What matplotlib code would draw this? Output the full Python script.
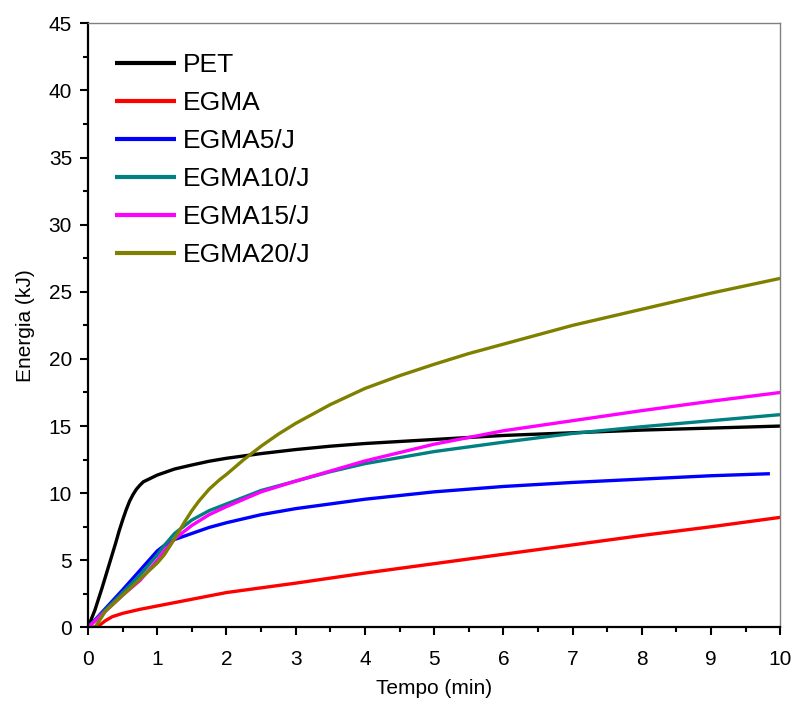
import matplotlib.pyplot as plt
from matplotlib.ticker import MultipleLocator

# time (min) / energy (kJ) per sample
pet_t = [0, 0.1, 0.2, 0.3, 0.4, 0.45, 0.5, 0.55, 0.6, 0.65, 0.7, 0.75, 0.8, 0.9, 1.0, 1.25, 1.5, 1.75,
         2, 2.5, 3, 3.5, 4, 4.5, 5, 6, 7, 8, 9, 10]
pet_e = [0, 1.3, 2.9, 4.6, 6.3, 7.2, 8.0, 8.75, 9.4, 9.9, 10.3, 10.6, 10.85, 11.1, 11.35, 11.8, 12.1, 12.38,
         12.6, 12.95, 13.25, 13.5, 13.7, 13.85, 14.0, 14.3, 14.5, 14.7, 14.85, 15.0]

egma_t = [0.05, 0.15, 0.25, 0.35, 0.5, 0.75, 1, 1.5, 2, 3, 4, 5, 6, 7, 8, 9, 10]
egma_e = [0, 0.1, 0.5, 0.8, 1.05, 1.35, 1.6, 2.1, 2.6, 3.3, 4.05, 4.75, 5.45, 6.15, 6.85, 7.5, 8.2]

egma5_t = [0, 0.25, 0.5, 0.75, 1, 1.1, 1.25, 1.5, 1.75, 2, 2.5, 3, 3.5, 4, 5, 6, 7, 8, 9, 9.85]
egma5_e = [0, 1.4, 2.8, 4.25, 5.7, 6.1, 6.55, 7.0, 7.45, 7.8, 8.4, 8.85, 9.2, 9.55, 10.1, 10.5, 10.8, 11.05, 11.3, 11.45]

egma10_t = [0, 0.25, 0.5, 0.75, 1, 1.1, 1.25, 1.5, 1.75, 2, 2.5, 3, 3.5, 4, 5, 6, 7, 8, 9, 10]
egma10_e = [0, 1.3, 2.6, 3.9, 5.4, 6.1, 7.0, 8.0, 8.7, 9.2, 10.2, 10.9, 11.6, 12.2, 13.1, 13.8, 14.45, 14.95, 15.4, 15.85]

egma15_t = [0, 0.25, 0.5, 0.75, 1, 1.1, 1.25, 1.5, 1.75, 2, 2.5, 3, 4, 5, 6, 7, 8, 9, 10]
egma15_e = [0, 1.2, 2.4, 3.5, 5.0, 5.7, 6.6, 7.6, 8.4, 9.0, 10.1, 10.9, 12.4, 13.65, 14.65, 15.4, 16.15, 16.85, 17.5]

egma20_t = [0.1, 0.25, 0.5, 0.75, 1, 1.1, 1.25, 1.4, 1.5, 1.6, 1.75, 1.9, 2, 2.25, 2.5, 2.75, 3, 3.25,
            3.5, 3.75, 4, 4.5, 5, 5.5, 6, 6.5, 7, 7.5, 8, 8.5, 9, 9.5, 10]
egma20_e = [0, 1.2, 2.4, 3.6, 4.8, 5.4, 6.6, 7.9, 8.7, 9.4, 10.3, 11.0, 11.4, 12.5, 13.5, 14.4, 15.2, 15.9,
            16.6, 17.2, 17.8, 18.75, 19.6, 20.4, 21.1, 21.8, 22.5, 23.1, 23.7, 24.3, 24.9, 25.45, 26.0]

labels = ["PET", "EGMA", "EGMA5/J", "EGMA10/J", "EGMA15/J", "EGMA20/J"]
colors = ["black", "#ff0000", "#0000ff", "#008080", "#ff00ff", "#808000"]

plt.rcParams["font.family"] = ["Liberation Sans", "DejaVu Sans"]

fig = plt.figure(figsize=(7.93, 7.05), dpi=100)
ax = fig.add_axes([0.111, 0.110, 0.873, 0.857])

series = [(pet_t, pet_e), (egma_t, egma_e), (egma5_t, egma5_e),
          (egma10_t, egma10_e), (egma15_t, egma15_e), (egma20_t, egma20_e)]
for (t, e), lab, c in zip(series, labels, colors):
    ax.plot(t, e, color=c, linewidth=2.4, label=lab, solid_capstyle="butt", solid_joinstyle="round")

ax.set_xlim(0, 10)
ax.set_ylim(0, 45)
ax.xaxis.set_major_locator(MultipleLocator(1))
ax.xaxis.set_minor_locator(MultipleLocator(0.5))
ax.yaxis.set_major_locator(MultipleLocator(5))
ax.yaxis.set_minor_locator(MultipleLocator(2.5))
ax.tick_params(which="both", direction="out", width=1.5, labelsize=15, top=False, right=False)
ax.tick_params(which="major", length=5.5)
ax.tick_params(which="minor", length=3.5)
ax.tick_params(axis="x", which="major", pad=11)
ax.tick_params(axis="y", which="major", pad=6)

for side in ["left", "bottom"]:
    ax.spines[side].set_linewidth(1.6)
    ax.spines[side].set_color("black")
for side in ["top", "right"]:
    ax.spines[side].set_linewidth(1.0)
    ax.spines[side].set_color("#808080")

ax.set_xlabel("Tempo (min)", fontsize=15, labelpad=7)
ax.set_ylabel("Energia (kJ)", fontsize=15, labelpad=10)

leg = ax.legend(loc="upper left", bbox_to_anchor=(0.039, 0.950), frameon=False,
                fontsize=19, handlelength=2.3, handletextpad=0.27,
                labelspacing=0.53, borderpad=0, borderaxespad=0)
for line in leg.get_lines():
    line.set_linewidth(3.0)

fig.savefig("out.png", dpi=100)
